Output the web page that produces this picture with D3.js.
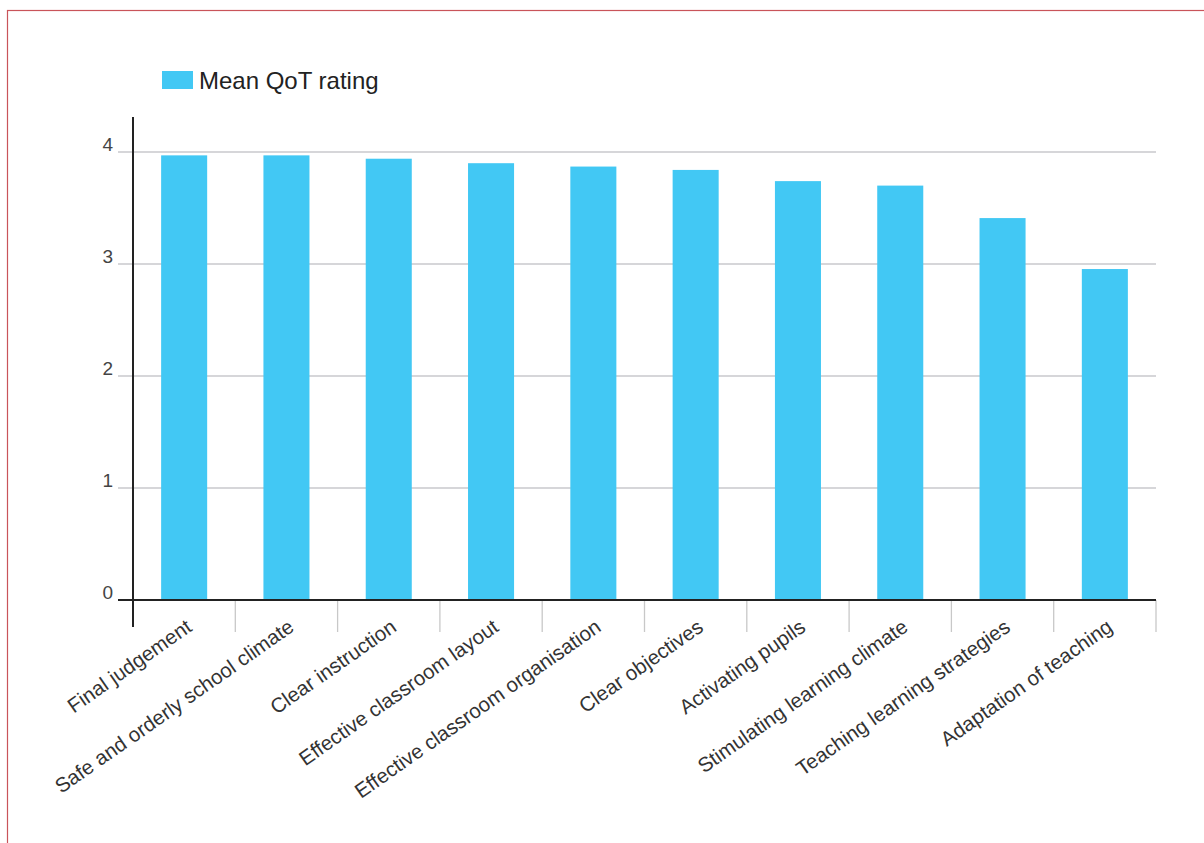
<!DOCTYPE html>
<html><head><meta charset="utf-8">
<script src="https://cdn.jsdelivr.net/npm/d3@7"></script>
<style>body{margin:0;background:#fff;} svg{display:block;}</style>
</head><body>
<svg id="c" width="1204" height="843"></svg>
<script>
const categories = ["Final judgement","Safe and orderly school climate","Clear instruction","Effective classroom layout","Effective classroom organisation","Clear objectives","Activating pupils","Stimulating learning climate","Teaching learning strategies","Adaptation of teaching"];
const values = [3.97, 3.97, 3.94, 3.90, 3.87, 3.84, 3.74, 3.70, 3.41, 2.955];
const yTicks = [0,1,2,3,4];
const seriesName = "Mean QoT rating";

const svg = d3.select("#c");
const font = "'Liberation Sans', Arial, Helvetica, sans-serif";
const barColor = "#42c8f4";

// frame
svg.append("rect").attr("x",7.5).attr("y",10.5).attr("width",1300).attr("height",1000)
  .attr("fill","none").attr("stroke","#c9545a").attr("stroke-width",1.2);

const x = d3.scaleBand().domain(categories).range([133,1156]).paddingInner(0.55).paddingOuter(0.275);
const y = d3.scaleLinear().domain([0,4]).range([600,152]);

// gridlines
svg.append("g").selectAll("line").data(yTicks.filter(d=>d>0)).join("line")
  .attr("x1",118).attr("x2",1156).attr("y1",d=>y(d)).attr("y2",d=>y(d))
  .attr("stroke","#c8c8cc").attr("stroke-width",1.3);

// y tick labels
svg.append("g").selectAll("text").data(yTicks).join("text")
  .attr("x",113).attr("y",d=>y(d)-1).attr("text-anchor","end")
  .attr("font-family",font).attr("font-size",19).attr("fill","#444").text(d=>d);

// category separators
const bounds = categories.map((c,i)=>133 + (1156-133)/categories.length*(i+1));
svg.append("g").selectAll("line").data(bounds).join("line")
  .attr("x1",d=>d).attr("x2",d=>d).attr("y1",600).attr("y2",632)
  .attr("stroke","#c8c8c8").attr("stroke-width",1.3);

// bars
svg.append("g").selectAll("rect").data(values).join("rect")
  .attr("x",(d,i)=>x(categories[i])).attr("width",x.bandwidth())
  .attr("y",d=>y(d)).attr("height",d=>y(0)-y(d)).attr("fill",barColor);

// axes lines
svg.append("line").attr("x1",118).attr("x2",1156).attr("y1",600).attr("y2",600)
  .attr("stroke","#222").attr("stroke-width",2);
svg.append("line").attr("x1",133).attr("x2",133).attr("y1",117).attr("y2",627)
  .attr("stroke","#222").attr("stroke-width",2);

// x labels
svg.append("g").selectAll("text").data(categories).join("text")
  .attr("transform",c=>`translate(${x(c)+x.bandwidth()/2+9},630) rotate(-35)`)
  .attr("text-anchor","end").attr("font-family",font).attr("font-size",20.5).attr("fill","#333")
  .text(c=>c);

// legend
svg.append("rect").attr("x",162).attr("y",71).attr("width",31).attr("height",18).attr("fill",barColor);
svg.append("text").attr("x",199).attr("y",89).attr("font-family",font).attr("font-size",24)
  .attr("fill","#222").text(seriesName);
</script>
</body></html>
